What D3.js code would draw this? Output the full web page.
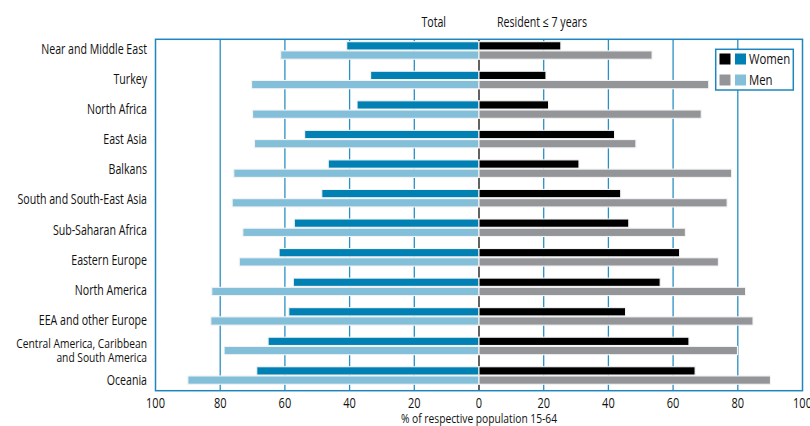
<!DOCTYPE html>
<html>
<head>
<meta charset="utf-8">
<script src="https://cdn.jsdelivr.net/npm/d3@7"></script>
<style>
  html, body { margin: 0; padding: 0; background: #fff; }
  svg { display: block; }
  text { font-family: "Open Sans", "Noto Sans", sans-serif; fill: #111; }
</style>
</head>
<body>
<svg id="chart" width="810" height="426"></svg>
<script>
const categories = [
  "Near and Middle East", "Turkey", "North Africa", "East Asia", "Balkans",
  "South and South-East Asia", "Sub-Saharan Africa", "Eastern Europe",
  "North America", "EEA and other Europe",
  "Central America, Caribbean\nand South America", "Oceania"
];
const totalWomen    = [40.9, 33.5, 37.7, 53.9, 46.6, 48.6, 57.1, 61.8, 57.4, 58.8, 65.2, 68.7];
const totalMen      = [61.3, 70.3, 70.0, 69.4, 75.8, 76.3, 73.0, 74.1, 82.6, 82.9, 78.8, 90.0];
const residentWomen = [25.3, 20.7, 21.5, 41.9, 30.9, 43.8, 46.3, 62.0, 56.0, 45.3, 64.9, 66.8];
const residentMen   = [53.5, 71.0, 68.7, 48.5, 78.1, 76.7, 63.8, 74.0, 82.4, 84.7, 79.9, 90.1];
const tickValues = [-100, -80, -60, -40, -20, 0, 20, 40, 60, 80, 100];
const series = ["Women", "Men"];
const panelTitles = ["Total", "Resident \u2264 7 years"];
const axisTitle = "% of respective population 15-64";

const colors = {
  total:    { Women: "#0080b3", Men: "#84bfda" },
  resident: { Women: "#000000", Men: "#949598" }
};
const frameColor = "#1e86bd";
const gridColor = "#2a8fc4";

const svg = d3.select("#chart");

const plot = { left: 155.5, right: 802.5, top: 39.3, bottom: 390.7 };

const x = d3.scaleLinear().domain([-100, 100]).range([plot.left, plot.right]);
const y = d3.scaleBand().domain(categories)
  .range([41.7, 41.7 + 11 * 29.55 + 17.5])
  .paddingInner(1 - 17.5 / 29.55).paddingOuter(0);
const ySub = d3.scaleBand().domain(series).range([0, y.bandwidth()]).paddingInner(0.1);
const yLabel = d3.scalePoint().domain(categories).range([49, 380]);

// condensed text helper: measure a reference string to get horizontal squeeze
const probe = svg.append("text").attr("font-size", 14).text("Near and Middle East");
const squeeze = 106 / probe.node().getComputedTextLength();
probe.remove();

function ctext(parent, tx, ty, str, anchor, size) {
  return parent.append("text")
    .attr("transform", `translate(${tx},${ty}) scale(${squeeze},1)`)
    .attr("text-anchor", anchor)
    .attr("font-size", size)
    .text(str);
}

// gridlines
svg.append("g").selectAll("line")
  .data(tickValues.filter(t => t !== 0 && Math.abs(t) !== 100))
  .join("line")
  .attr("x1", d => x(d)).attr("x2", d => x(d))
  .attr("y1", plot.top).attr("y2", plot.bottom)
  .attr("stroke", gridColor).attr("stroke-width", 1.3);

// zero line
svg.append("line")
  .attr("x1", x(0)).attr("x2", x(0))
  .attr("y1", plot.top).attr("y2", plot.bottom)
  .attr("stroke", "#3a3a3a").attr("stroke-width", 1.6);

// bars
const barData = [];
categories.forEach((c, i) => {
  barData.push({ cat: c, s: "Women", v: -totalWomen[i], color: colors.total.Women });
  barData.push({ cat: c, s: "Men", v: -totalMen[i], color: colors.total.Men });
  barData.push({ cat: c, s: "Women", v: residentWomen[i], color: colors.resident.Women });
  barData.push({ cat: c, s: "Men", v: residentMen[i], color: colors.resident.Men });
});
svg.append("g").selectAll("rect")
  .data(barData)
  .join("rect")
  .attr("x", d => Math.min(x(0), x(d.v)))
  .attr("width", d => Math.abs(x(d.v) - x(0)))
  .attr("y", d => y(d.cat) + ySub(d.s))
  .attr("height", ySub.bandwidth())
  .attr("fill", d => d.color)
  .attr("stroke", "#f4f4f4").attr("stroke-width", 1.1);

// frame
svg.append("rect")
  .attr("x", plot.left).attr("y", plot.top)
  .attr("width", plot.right - plot.left).attr("height", plot.bottom - plot.top)
  .attr("fill", "none").attr("stroke", frameColor).attr("stroke-width", 1.5);

// category labels
const lg0 = svg.append("g");
categories.forEach(c => {
  const lines = c.split("\n");
  const lh = 14;
  const size = lines.length > 1 ? 13.5 : 14;
  lines.forEach((ln, k) => {
    const cy = yLabel(c) - (lines.length - 1) * lh / 2 + k * lh;
    ctext(lg0, 147, cy + 5, ln, "end", size);
  });
});

// x axis tick labels
const axG = svg.append("g");
tickValues.forEach(t => ctext(axG, x(t), 408, String(Math.abs(t)), "middle", 14.5));
ctext(svg, x(0), 423, axisTitle, "middle", 13.5);

// panel titles
ctext(svg, 446, 27, panelTitles[0], "end", 14);
ctext(svg, 497, 27, panelTitles[1], "start", 14);

// legend
const lg = svg.append("g");
lg.append("rect").attr("x", 715.7).attr("y", 49.3).attr("width", 77.6).attr("height", 40.7)
  .attr("fill", "#fff").attr("stroke", frameColor).attr("stroke-width", 1.5);
series.forEach((s, i) => {
  const yy = 53.5 + i * 21;
  lg.append("rect").attr("x", 719.5).attr("y", yy).attr("width", 11).attr("height", 11)
    .attr("fill", colors.resident[s]);
  lg.append("rect").attr("x", 735).attr("y", yy).attr("width", 11).attr("height", 11)
    .attr("fill", colors.total[s]);
  ctext(lg, 749, yy + 10.5, s, "start", 15);
});
</script>
</body>
</html>
